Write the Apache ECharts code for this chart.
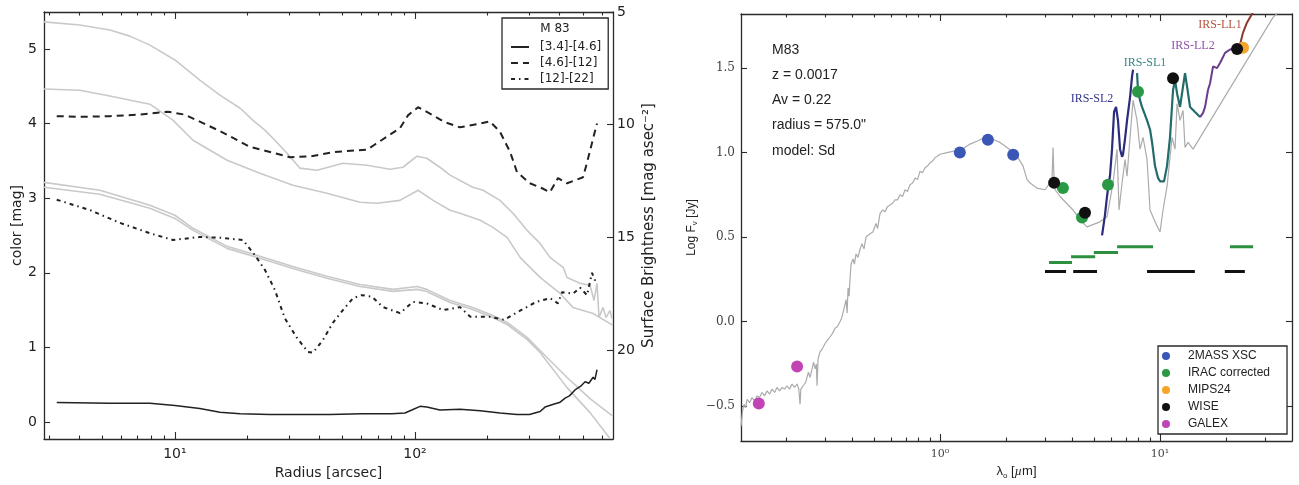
<!DOCTYPE html>
<html><head><meta charset="utf-8">
<script src="https://cdn.jsdelivr.net/npm/echarts@6/dist/echarts.min.js"></script>
<style>html,body{margin:0;padding:0;background:#fff}#c{width:1299px;height:485px}</style>
</head><body><div id="c"></div>
<script>
// ================= LEFT PANEL DATA (radius [arcsec], value) =================
const sbW4 = [[2.85,5.44],[4.02,5.58],[5.36,5.80],[6.49,6.07],[7.87,6.47],[10.0,7.13],[12.7,8.02],[15.4,8.69],[18.7,9.27],[21.1,9.80],[23.7,10.24],[26.1,10.69],[29.3,11.27],[33.2,11.93],[39.1,12.02],[50.1,11.71],[63.1,11.80],[78.7,11.98],[89.1,11.89],[102,11.40],[112,11.49],[127,11.89],[140,12.24],[174,12.78],[192,12.91],[226,13.36],[256,13.93],[293,14.69],[332,15.27],[365,15.89],[414,16.33],[430,16.78],[487,17.04],[536,17.13],[557,17.80],[573,17.04],[584,18.56],[607,18.11],[625,18.56],[649,18.24],[662,18.60]];
const sbW3 = [[2.85,8.42],[4.02,8.47],[5.36,8.73],[7.87,9.09],[9.81,9.80],[11.9,10.69],[16.5,11.58],[22.6,12.16],[31.0,12.69],[43.0,13.04],[59.0,13.44],[69.5,13.49],[86.6,13.36],[103,12.91],[119,13.36],[140,13.80],[154,13.93],[187,14.24],[211,14.56],[242,15.00],[274,15.89],[332,16.78],[402,17.49],[455,18.11],[552,18.38],[668,18.91]];
const sbW1 = [[2.85,12.56],[4.87,12.91],[7.87,13.58],[10.0,14.02],[11.9,14.60],[16.5,15.40],[22.6,15.84],[31.0,16.29],[43.0,16.73],[59.0,17.09],[81.0,17.31],[102,17.18],[112,17.31],[140,17.80],[174,18.11],[211,18.47],[242,18.78],[293,19.44],[332,20.02],[430,21.22],[536,22.16],[662,22.91]];
const sbW2 = [[2.85,12.78],[4.87,13.09],[7.87,13.71],[10.0,14.16],[11.9,14.69],[16.5,15.49],[22.6,15.93],[31.0,16.38],[43.0,16.82],[59.0,17.18],[81.0,17.40],[102,17.31],[112,17.40],[140,17.89],[174,18.20],[211,18.56],[242,18.87],[293,19.53],[332,20.11],[430,21.67],[536,22.78],[649,23.93]];
const colW1W2 = [[3.22,0.26],[5.36,0.25],[7.87,0.25],[10.0,0.22],[12.7,0.18],[15.4,0.13],[18.7,0.11],[24.9,0.10],[33.2,0.10],[44.2,0.10],[60.0,0.11],[80.0,0.11],[90.8,0.12],[97.0,0.16],[105,0.21],[112,0.20],[127,0.16],[154,0.17],[187,0.15],[226,0.12],[266,0.10],[300,0.10],[332,0.14],[348,0.20],[380,0.24],[400,0.26],[422,0.32],[440,0.35],[464,0.43],[490,0.48],[511,0.54],[530,0.52],[552,0.60],[562,0.57],[573,0.70]];
const colW2W3 = [[3.22,4.10],[4.02,4.09],[5.36,4.10],[7.15,4.12],[9.35,4.16],[11.0,4.12],[15.4,3.90],[20.5,3.69],[24.9,3.62],[30.1,3.55],[36.5,3.56],[46.4,3.62],[63.1,3.65],[68.1,3.72],[86.6,3.94],[93.5,4.11],[103,4.22],[119,4.11],[133,4.02],[154,3.95],[187,4.00],[205,4.03],[226,3.89],[249,3.62],[266,3.35],[301,3.20],[340,3.13],[365,3.08],[394,3.27],[430,3.20],[501,3.28],[521,3.48],[552,3.80],[573,4.00]];
const colW3W4 = [[3.22,2.98],[4.43,2.84],[5.90,2.67],[7.87,2.53],[9.81,2.44],[12.7,2.48],[15.4,2.47],[19.2,2.44],[21.5,2.24],[23.7,2.04],[26.1,1.77],[28.7,1.39],[32.2,1.13],[35.8,0.94],[37.6,0.93],[41.4,1.10],[45.5,1.33],[50.1,1.50],[55.2,1.66],[60.1,1.70],[66.2,1.68],[73.6,1.54],[86.6,1.46],[98.1,1.61],[112,1.59],[131,1.50],[154,1.54],[170,1.41],[205,1.41],[235,1.37],[266,1.47],[320,1.61],[365,1.66],[394,1.59],[410,1.74],[455,1.72],[487,1.80],[521,1.70],[546,2.00],[562,1.90],[573,1.93]];
const leftLegendNames = ['[3.4]-[4.6]', '[4.6]-[12]', '[12]-[22]'];
const leftLegendTitle = 'M 83';
const colorTicks = [0, 1, 2, 3, 4, 5];
const sbTicks = [5, 10, 15, 20];
const radiusMajor = [10, 100];
const radiusMinor = [3,4,5,6,7,8,9,20,30,40,50,60,70,80,90,200,300,400,500,600];

// ================= RIGHT PANEL DATA (wavelength [um], log Fnu) =================
const sedModel = [[0.1246,-0.62],[0.1265,-0.53],[0.1285,-0.49],[0.1306,-0.51],[0.1327,-0.46],[0.1362,-0.48],[0.1398,-0.45],[0.1435,-0.47],[0.1473,-0.44],[0.1512,-0.45],[0.1552,-0.42],[0.1593,-0.44],[0.1635,-0.41],[0.1679,-0.43],[0.1723,-0.40],[0.1769,-0.42],[0.1816,-0.39],[0.1864,-0.41],[0.1913,-0.39],[0.1964,-0.40],[0.2016,-0.38],[0.2069,-0.40],[0.2124,-0.37],[0.2180,-0.39],[0.2239,-0.37],[0.2280,-0.40],[0.2310,-0.49],[0.2330,-0.40],[0.2386,-0.38],[0.2450,-0.36],[0.2520,-0.30],[0.2565,-0.33],[0.2619,-0.28],[0.2660,-0.24],[0.2703,-0.28],[0.2740,-0.25],[0.2760,-0.38],[0.2790,-0.22],[0.2848,-0.18],[0.2920,-0.16],[0.3001,-0.13],[0.3080,-0.11],[0.3162,-0.09],[0.3245,-0.07],[0.3332,-0.04],[0.3420,-0.03],[0.3511,0.00],[0.3570,0.02],[0.3623,0.03],[0.3680,0.09],[0.3738,0.13],[0.3780,0.05],[0.3818,0.20],[0.3858,0.15],[0.3900,0.26],[0.3940,0.34],[0.4023,0.37],[0.4080,0.34],[0.4151,0.40],[0.4239,0.38],[0.4330,0.43],[0.4419,0.46],[0.4510,0.43],[0.4609,0.50],[0.4700,0.49],[0.4806,0.52],[0.4950,0.53],[0.5117,0.58],[0.5200,0.55],[0.5337,0.64],[0.5480,0.66],[0.5623,0.65],[0.5770,0.68],[0.5925,0.69],[0.6080,0.70],[0.6244,0.72],[0.6410,0.72],[0.6579,0.75],[0.6750,0.74],[0.6934,0.78],[0.7110,0.77],[0.7305,0.81],[0.7500,0.82],[0.7699,0.85],[0.7900,0.84],[0.8111,0.89],[0.8320,0.88],[0.8547,0.91],[0.8770,0.92],[0.9006,0.94],[0.9250,0.95],[0.9490,0.97],[0.9740,0.98],[1.0,0.99],[1.076,1.00],[1.170,1.01],[1.259,1.02],[1.369,1.05],[1.488,1.07],[1.601,1.09],[1.723,1.08],[1.874,1.06],[2.016,1.03],[2.147,1.00],[2.262,0.97],[2.384,0.92],[2.486,0.84],[2.566,0.82],[2.760,0.79],[3.001,0.78],[3.162,0.82],[3.229,0.84],[3.263,1.03],[3.298,0.84],[3.333,0.78],[3.511,0.74],[4.022,0.66],[4.421,0.59],[4.658,0.56],[5.337,0.59],[5.742,0.62],[5.925,0.72],[6.114,0.82],[6.376,1.02],[6.511,0.66],[6.719,0.82],[6.933,0.96],[7.079,0.86],[7.305,1.09],[7.539,1.31],[7.862,1.19],[8.111,1.02],[8.370,1.09],[8.728,0.96],[9.006,0.66],[9.490,0.59],[10.0,0.53],[10.32,0.66],[10.76,0.80],[11.34,1.09],[11.70,1.02],[11.95,1.29],[12.33,1.19],[12.72,1.25],[12.99,1.03],[13.41,1.06],[14.13,1.02],[32.63,1.80],[36.5,1.86]];
const irsSL2 = [[5.45,0.51],[5.62,0.63],[5.74,0.74],[5.93,0.87],[6.05,1.02],[6.18,1.24],[6.31,1.27],[6.44,1.19],[6.58,1.02],[6.72,0.975],[6.79,0.99],[6.93,1.08],[7.08,1.19],[7.31,1.33],[7.46,1.45],[7.54,1.49]];
const irsSL1 = [[7.86,1.47],[7.94,1.37],[8.11,1.31],[8.28,1.27],[8.73,1.19],[9.01,1.135],[9.20,1.06],[9.49,0.92],[9.79,0.85],[10.0,0.83],[10.43,0.83],[10.76,0.92],[11.10,1.09],[11.46,1.37],[11.70,1.43],[11.95,1.35],[12.33,1.27],[12.72,1.39],[12.99,1.47],[13.27,1.39],[13.69,1.27],[14.42,1.24],[15.20,1.21]];
const irsLL2 = [[15.20,1.21],[15.69,1.235],[16.02,1.27],[16.52,1.37],[16.88,1.41],[17.42,1.51],[18.16,1.50],[18.74,1.53],[19.75,1.59],[20.81,1.61],[22.39,1.62],[23.10,1.64]];
const irsLL1 = [[23.10,1.64],[23.84,1.71],[24.86,1.77],[26.47,1.83]];
const ptGALEX = [[0.150,-0.485],[0.224,-0.266]];
const pt2MASS = [[1.23,1.00],[1.65,1.076],[2.15,0.987]];
const ptIRAC = [[3.62,0.79],[4.42,0.615],[5.80,0.81],[7.94,1.36]];
const ptMIPS = [[23.84,1.62]];
const ptWISE = [[3.30,0.822],[4.56,0.644],[11.46,1.44],[22.4,1.613]];
const bandsIRAC = [[3.13,3.98,0.349],[3.94,5.07,0.384],[5.00,6.44,0.408],[6.38,9.29,0.443],[20.8,26.5,0.443]];
const bandsWISE = [[3.00,3.74,0.296],[4.03,5.17,0.296],[8.73,14.4,0.296],[19.7,24.3,0.296]];
const pointNames = ['2MASS XSC', 'IRAC corrected', 'MIPS24', 'WISE', 'GALEX'];
const infoLines = ['M83', 'z = 0.0017', 'Av = 0.22', 'radius = 575.0"', 'model: Sd'];
const irsNames = ['IRS-SL2', 'IRS-SL1', 'IRS-LL2', 'IRS-LL1'];
const logFTicks = [-0.5, 0, 0.5, 1, 1.5];
const lamMajor = [1, 10];
const lamMinor = [0.2,0.3,0.4,0.5,0.6,0.7,0.8,0.9,2,3,4,5,6,7,8,9,20,30];

// ================= CHART =================
const L = Math.log10;
const SUP = {'0':'\u2070','1':'\u00b9','2':'\u00b2'};
const radiusRange = [2.85, 668], lamRange = [0.1245, 39.8];
const INK = '#2a2a2a';
const sans = 'DejaVu Sans', helv = 'Liberation Sans', serif = 'DejaVu Serif';

function decoX(grid, range, pos, ticks, len, line, labels, font) {
  return {
    type: 'value', gridIndex: grid, position: pos, min: L(range[0]), max: L(range[1]),
    axisLine: {show: line, onZero: false, lineStyle: {color: INK, width: 1.3}},
    axisTick: {show: true, inside: true, length: len, customValues: ticks.map(L), lineStyle: {color: INK, width: 1.1}},
    axisLabel: labels ? {show: true, customValues: ticks.map(L), margin: 8,
      formatter: v => '10' + SUP[String(Math.round(v))], fontFamily: font.f, fontSize: font.s, color: font.c} : {show: false},
    splitLine: {show: false}
  };
}

const xAxis = [
  {type: 'log', gridIndex: 0, min: radiusRange[0], max: radiusRange[1], show: false},
  Object.assign(decoX(0, radiusRange, 'bottom', radiusMajor, 7, true, true, {f: sans, s: 14, c: '#222'}),
    {name: 'Radius [arcsec]', nameLocation: 'middle', nameGap: 25, nameTextStyle: {fontFamily: sans, fontSize: 14, color: '#222'}}),
  decoX(0, radiusRange, 'bottom', radiusMinor, 3.5, false, false),
  decoX(0, radiusRange, 'top', radiusMajor, 7, true, false),
  decoX(0, radiusRange, 'top', radiusMinor, 3.5, false, false),
  {type: 'log', gridIndex: 1, min: lamRange[0], max: lamRange[1], show: false},
  Object.assign(decoX(1, lamRange, 'bottom', lamMajor, 7, true, true, {f: serif, s: 11, c: '#444'}),
    {name: '{a|\u03bb}{s|o}{a| [}{i|\u00b5}{a|m]}', nameLocation: 'middle', nameGap: 21,
     nameTextStyle: {rich: {a: {fontFamily: helv, fontSize: 13, color: '#222', lineHeight: 16},
       s: {fontFamily: helv, fontSize: 8, color: '#222', lineHeight: 16, verticalAlign: 'bottom'},
       i: {fontFamily: 'Liberation Serif', fontStyle: 'italic', fontSize: 13, color: '#222', lineHeight: 16}}}}),
  decoX(1, lamRange, 'bottom', lamMinor, 3.5, false, false),
  decoX(1, lamRange, 'top', lamMajor, 7, true, false),
  decoX(1, lamRange, 'top', lamMinor, 3.5, false, false)
];

const yAxis = [
  {type: 'value', gridIndex: 0, position: 'left', min: -0.228, max: 5.496,
   axisLine: {show: true, onZero: false, lineStyle: {color: INK, width: 1.3}},
   axisTick: {inside: true, length: 6, customValues: colorTicks, lineStyle: {color: INK, width: 1.1}},
   axisLabel: {customValues: colorTicks, margin: 7, fontFamily: sans, fontSize: 14, color: '#222'},
   splitLine: {show: false},
   name: 'color [mag]', nameLocation: 'middle', nameGap: 20, nameRotate: 90,
   nameTextStyle: {fontFamily: sans, fontSize: 14, color: '#222'}},
  {type: 'value', gridIndex: 0, position: 'right', inverse: true, min: 5, max: 23.95,
   axisLine: {show: true, onZero: false, lineStyle: {color: INK, width: 1.3}},
   axisTick: {inside: true, length: 6, customValues: sbTicks, lineStyle: {color: INK, width: 1.1}},
   axisLabel: {customValues: sbTicks, margin: 4, fontFamily: sans, fontSize: 14, color: '#222'},
   splitLine: {show: false},
   name: 'Surface Brightness [mag asec\u207b\u00b2]', nameLocation: 'middle', nameGap: 29, nameRotate: 90,
   nameTextStyle: {fontFamily: sans, fontSize: 15, color: '#222'}},
  {type: 'value', gridIndex: 1, position: 'left', min: -0.707, max: 1.82,
   axisLine: {show: true, onZero: false, lineStyle: {color: INK, width: 1.3}},
   axisTick: {inside: true, length: 6, customValues: logFTicks, lineStyle: {color: INK, width: 1.1}},
   axisLabel: {customValues: logFTicks, margin: 6, fontFamily: serif, fontSize: 12, color: '#444',
     formatter: v => (v < 0 ? '\u2212' : '') + Math.abs(v).toFixed(1)},
   splitLine: {show: false},
   name: '{a|Log F}{s|\u03bd}{a| [Jy]}', nameLocation: 'middle', nameGap: 42, nameRotate: 90,
   nameTextStyle: {rich: {a: {fontFamily: helv, fontSize: 12, color: '#222', lineHeight: 15},
     s: {fontFamily: helv, fontSize: 8, color: '#222', lineHeight: 15, verticalAlign: 'bottom'}}}},
  {type: 'value', gridIndex: 1, position: 'right', min: -0.707, max: 1.82,
   axisLine: {show: true, onZero: false, lineStyle: {color: INK, width: 1.3}},
   axisTick: {inside: true, length: 6, customValues: logFTicks, lineStyle: {color: INK, width: 1.1}},
   axisLabel: {show: false}, splitLine: {show: false}}
];

function line(data, xi, yi, color, width, type, name, z) {
  const s = {type: 'line', xAxisIndex: xi, yAxisIndex: yi, data: data, symbol: 'none', showSymbol: false,
    lineStyle: {color: color, width: width, type: type || 'solid'}, itemStyle: {color: color},
    z: z || 2, silent: true, animation: false, clip: true};
  if (name) s.name = name;
  return s;
}
function scatter(name, data, color) {
  return {type: 'scatter', name: name, xAxisIndex: 5, yAxisIndex: 2, data: data, symbol: 'circle',
    symbolSize: 12, itemStyle: {color: color, opacity: 1}, z: 6, animation: false, silent: true};
}

const series = [];
// left panel: surface brightness profiles (gray) on right axis
[sbW4, sbW3, sbW1, sbW2].forEach(d => series.push(line(d, 0, 1, '#c9c9c9', 1.6)));
// color profiles
series.push(line(colW1W2, 0, 0, '#222', 1.5, 'solid', leftLegendNames[0], 4));
series.push(line(colW2W3, 0, 0, '#222', 2, [7, 5], leftLegendNames[1], 4));
series.push(line(colW3W4, 0, 0, '#222', 2, [4, 4, 1.5, 4], leftLegendNames[2], 4));
// right panel
series.push(line(sedModel, 5, 2, '#ababab', 1.2));
bandsIRAC.forEach(b => series.push(line([[b[0], b[2]], [b[1], b[2]]], 5, 2, '#2e8f3e', 3)));
bandsWISE.forEach(b => series.push(line([[b[0], b[2]], [b[1], b[2]]], 5, 2, '#111', 3)));
series.push(line(irsSL2, 5, 2, '#2c2c7c', 2.2, 'solid', null, 3));
series.push(line(irsSL1, 5, 2, '#236c6c', 2.2, 'solid', null, 3));
series.push(line(irsLL2, 5, 2, '#6a3c8c', 2, 'solid', null, 3));
series.push(line(irsLL1, 5, 2, '#8c3a2c', 2, 'solid', null, 3));
series.push(scatter(pointNames[0], pt2MASS, '#3a57b5'));
series.push(scatter(pointNames[1], ptIRAC, '#2a9945'));
series.push(scatter(pointNames[2], ptMIPS, '#f6a52a'));
series.push(scatter(pointNames[3], ptWISE, '#111111'));
series.push(scatter(pointNames[4], ptGALEX, '#c044b4'));

const graphic = [
  {type: 'text', x: 555, y: 29, z: 100, style: {text: leftLegendTitle, font: '12px "DejaVu Sans"', fill: '#222',
    textAlign: 'center', textVerticalAlign: 'middle', align: 'center', verticalAlign: 'middle'}}
];
infoLines.forEach((t, i) => graphic.push({type: 'text', x: 772, y: 50 + i * 25.2, z: 100,
  style: {text: t, font: '14px "Liberation Sans"', fill: '#222', textVerticalAlign: 'middle', verticalAlign: 'middle'}}));
const irsLabelStyle = [
  {x: 1092, y: 99, c: '#35358e'}, {x: 1145, y: 63, c: '#3a8585'},
  {x: 1193, y: 46, c: '#9050ae'}, {x: 1220, y: 25, c: '#b4543e'}
];
irsNames.forEach((t, i) => graphic.push({type: 'text', x: irsLabelStyle[i].x, y: irsLabelStyle[i].y, z: 100,
  style: {text: t, font: '12px "Liberation Serif"', fill: irsLabelStyle[i].c,
    textAlign: 'center', textVerticalAlign: 'middle', align: 'center', verticalAlign: 'middle'}}));

const option = {
  animation: false,
  backgroundColor: '#fff',
  grid: [
    {left: 44, top: 12, width: 569, height: 427, containLabel: false},
    {left: 741, top: 14, width: 551, height: 427, containLabel: false}
  ],
  xAxis: xAxis,
  yAxis: yAxis,
  legend: [
    {data: leftLegendNames, orient: 'vertical', left: 502, top: 18, padding: [23, 7, 4, 8],
     itemWidth: 18, itemHeight: 12, itemGap: 4, borderColor: INK, borderWidth: 1.3, backgroundColor: '#fff',
     itemStyle: {opacity: 0}, selectedMode: false,
     textStyle: {fontFamily: sans, fontSize: 12, color: '#222', padding: [0, 0, 0, 6]}},
    {data: pointNames, orient: 'vertical', left: 1158, top: 346, padding: [3, 17, 3, 4],
     itemWidth: 26, itemHeight: 8, itemGap: 3, icon: 'circle', borderColor: INK, borderWidth: 1.3,
     backgroundColor: '#fff', selectedMode: false,
     textStyle: {fontFamily: helv, fontSize: 12, color: '#222', lineHeight: 14, padding: [0, 0, 0, 4]}}
  ],
  graphic: graphic,
  series: series
};

const chart = echarts.init(document.getElementById('c'), null, {renderer: 'canvas'});
chart.setOption(option);
</script>
</body></html>
